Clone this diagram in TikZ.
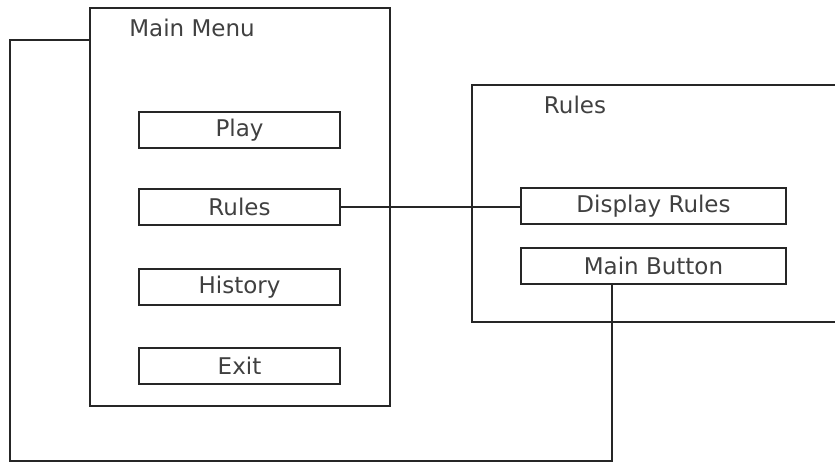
\documentclass[tikz,border=0pt]{standalone}
\usepackage{fontspec}
\setmainfont{DejaVu Sans}
\usetikzlibrary{positioning}

\tikzset{
  panel/.style={draw=black!85, line width=1.5pt, inner sep=0pt},
  btn/.style={draw=black!85, line width=1.5pt, inner sep=0pt, minimum height=36pt, text=black!75},
  caption/.style={text=black!75, inner sep=0pt},
}

\begin{document}
\begin{tikzpicture}[x=1pt,y=-1pt, font=\fontsize{23}{27}\selectfont]
\useasboundingbox (0,0) rectangle (835,462);
\clip (0,0) rectangle (835,462);
% main menu screen
\node[panel, minimum width=300pt, minimum height=398pt] (menu) at (240,207) {};
\node[caption] (menutitle) at (192,28) {Main Menu};
\node[btn, minimum width=201pt] (play) at (239.5,130) {Play};
\node[btn, minimum width=201pt] (rules) at (239.5,207) {Rules};
\node[btn, minimum width=201pt] (history) at (239.5,287) {History};
\node[btn, minimum width=201pt] (exit) at (239.5,366) {Exit};
% rules screen
\node[panel, minimum width=380pt, minimum height=237pt] (rulespanel) at (662,203.5) {};
\node[caption] (rulestitle) at (575,105) {Rules};
\node[btn, minimum width=265pt] (disprules) at (653.5,206) {Display Rules};
\node[btn, minimum width=265pt] (mainbtn) at (653.5,266) {Main Button};
% links
\coordinate (btnfoot) at (612,461);
\coordinate (cornerbl) at (10,461);
\coordinate (cornertl) at (10,40);
\draw[black!85, line width=1.5pt] (rules.east) -- (rules.east -| disprules.west);
\draw[black!85, line width=1.5pt] (mainbtn.south -| btnfoot) -- (btnfoot) -- (cornerbl) -- (cornertl) -- (cornertl -| menu.west);
\end{tikzpicture}
\end{document}
